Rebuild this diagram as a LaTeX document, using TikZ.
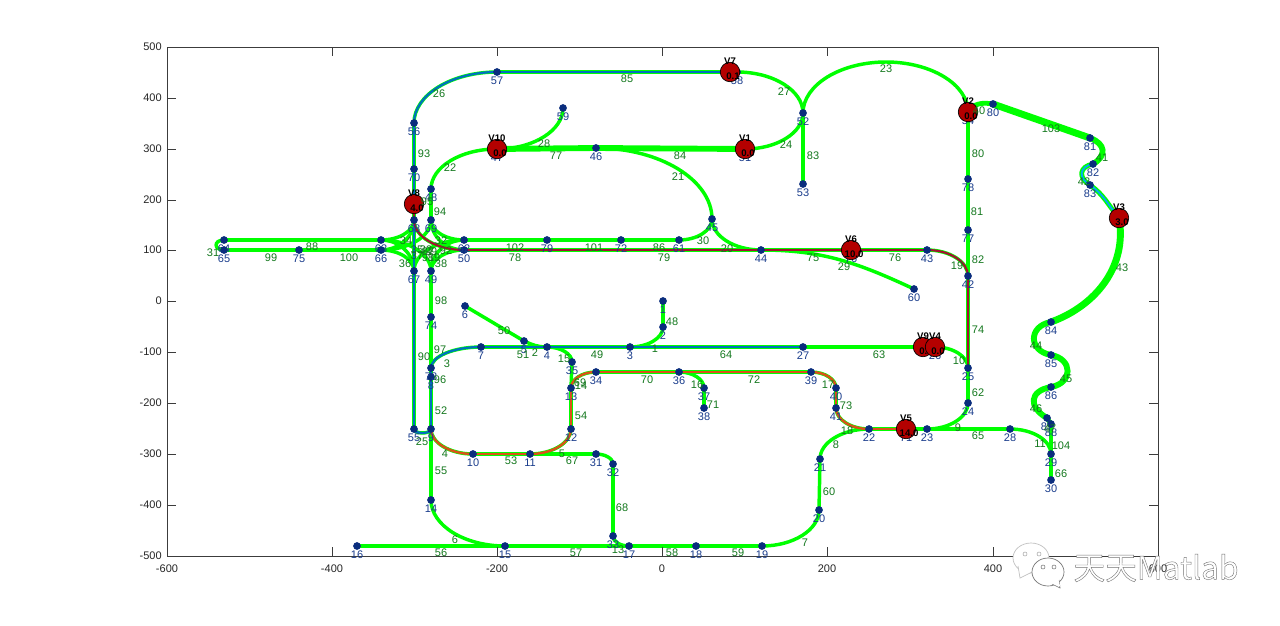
\documentclass[tikz,border=0pt]{standalone}
\usepackage{fontspec}
\setmainfont{Liberation Sans}
\newfontfamily\cjkfont{Noto Sans CJK SC}
\usetikzlibrary{backgrounds,calc}
\definecolor{gline}{RGB}{0,255,0}
\definecolor{mblue}{RGB}{0,114,189}
\definecolor{mred}{RGB}{162,20,47}
\definecolor{morange}{RGB}{217,83,25}
\definecolor{dotblue}{RGB}{10,45,125}
\definecolor{nlabel}{RGB}{25,60,140}
\definecolor{elabel}{RGB}{20,120,30}
\definecolor{vred}{RGB}{180,0,0}
\definecolor{axisgray}{RGB}{60,60,60}
\tikzset{
  x=0.75pt,y=-0.75pt,
  axisline/.style={draw=axisgray,line width=0.6pt},
  ticklab/.style={font=\fontsize{8.25pt}{9pt}\selectfont,text=black!85,inner sep=0pt},
  dotnode/.style={circle,fill=dotblue,minimum size=5.8pt,inner sep=0pt},
  nlab/.style={font=\fontsize{8.25pt}{9pt}\selectfont,text=nlabel,inner sep=0pt,label distance=0.3pt},
  elab/.style={font=\fontsize{8.25pt}{9pt}\selectfont,text=elabel,inner sep=0pt},
  vcirc/.style={circle,fill=vred,draw=black,line width=0.5pt,minimum size=14.6pt,inner sep=0pt},
  vname/.style={font=\bfseries\fontsize{7.2pt}{8pt}\selectfont,text=black,inner sep=0pt},
  vval/.style={font=\bfseries\fontsize{7.2pt}{8pt}\selectfont,text=black,inner sep=0pt},
  gbase/.style={draw=gline,line width=2.6pt},
  gmid/.style={draw=gline,line width=3.6pt},
  gthick/.style={draw=gline,line width=4.4pt},
  gbold/.style={draw=gline,line width=5.2pt},
  pblue/.style={draw=mblue,line width=1.7pt,line cap=round},
  pred/.style={draw=mred,line width=1.6pt,line cap=round},
  porange/.style={draw=morange,line width=1.8pt,line cap=round},
  pcyan/.style={draw=cyan,line width=1.4pt,line cap=round},
  bubble/.style={fill=white,line width=0.5pt},
}
\newcommand{\straights}[2]{\foreach \a/\b in {#2} \draw[#1] (n\a.center) -- (n\b.center);}
\newcommand{\curves}[2]{\foreach \a/\b/\o/\i/\l in {#2} \draw[#1] (n\a.center) to[out=\o,in=\i,looseness=\l] (n\b.center);}
% quarter ellipses: leaving horizontally and arriving vertically, or the reverse
\newcommand{\hvset}[2]{\foreach \a/\b in {#2} \draw[#1] let \p1=(n\a.center),\p2=(n\b.center) in (\p1) .. controls ({\x1+0.55*(\x2-\x1)},\y1) and (\x2,{\y2-0.55*(\y2-\y1)}) .. (\p2);}
\newcommand{\vhset}[2]{\foreach \a/\b in {#2} \draw[#1] let \p1=(n\a.center),\p2=(n\b.center) in (\p1) .. controls (\x1,{\y1+0.55*(\y2-\y1)}) and ({\x2-0.55*(\x2-\x1)},\y2) .. (\p2);}
\begin{document}
\begin{tikzpicture}
\useasboundingbox (0,0) rectangle (1280,625);
\begin{pgfonlayer}{background}
\fill[white] (0,0) rectangle (1280,625);
\end{pgfonlayer}

% axes
\draw[axisline] (167,47) rectangle (1158,556);
\foreach \px/\t in {167/-600,332/-400,497/-200,662/0,827/200,993/400,1158/600}{
  \draw[axisline] (\px,556) -- (\px,547);
  \draw[axisline] (\px,47) -- (\px,56);
  \node[ticklab] at (\px,569) {\t};
}
\foreach \py/\t in {47/500,98/400,149/300,200/200,250/100,301/0,352/-100,403/-200,454/-300,505/-400,556/-500}{
  \draw[axisline] (167,\py) -- (176,\py);
  \draw[axisline] (1158,\py) -- (1149,\py);
  \node[ticklab,anchor=east] at (162,\py) {\t};
}

% graph nodes
\foreach \i/\x/\y in {1/663/301,2/663/327,3/630/347,4/547/347,5/524/341,6/465/306,7/481/347,8/431/377,9/431/429,10/473/454,11/530/454,12/571/429,13/571/388,14/431/500,15/505/546,16/357/546,17/629/546,18/696/546,19/762/546,20/819/510,21/820/459,22/869/429,23/927/429,24/968/403,25/968/368,26/935/347,27/803/347,28/1010/429,29/1051/454,30/1051/480,31/596/454,32/613/464,33/613/536,34/596/372,35/572/362,36/679/372,37/704/388,38/704/408,39/811/372,40/836/388,41/836/408,42/968/276,43/927/250,44/761/250,45/712/219,46/596/148,47/497/149,48/431/189,49/431/271,50/464/250,51/745/149,52/803/113,53/803/184,54/968/112,55/414/429,56/414/123,57/497/72,58/737/72,59/563/108,60/914/289,61/679/240,62/464/240,63/381/240,64/224/240,65/224/250,66/381/250,67/414/271,68/414/220,69/431/220,70/414/169,71/906/429,72/621/240,73/431/368,74/431/317,75/299/250,76/851/250,77/968/230,78/968/179,79/547/240,80/993/104,81/1090/138,82/1093/164,83/1090/185,84/1051/322,85/1051/355,86/1051/387,87/1047/418,88/1051/424}{
  \node[dotnode,label={[nlab]below:\i}] (n\i) at (\x,\y) {};
}
\coordinate (npk) at (886,62);

% connectors
\begin{pgfonlayer}{background}
\straights{gbase}{2/1,6/5,7/4,4/3,3/27,27/26,35/13,34/36,36/39,37/38,40/41,22/71,71/23,20/21,16/15,15/17,17/18,18/19,9/14,32/33,11/31,10/11,12/13,8/9,73/8,74/73,49/74,48/69,55/67,67/68,68/70,70/56,57/58,52/53,64/63,79/72,72/61,62/79,65/75,75/66,50/44,44/76,76/43,42/77,77/78,78/54,42/25,25/24,23/28,29/30}
\hvset{gbase}{3/2,4/35,36/37,39/40,19/20,11/12,31/32,58/52,51/52,47/59,46/45,61/45,43/42,26/25,23/24,28/29,pk/54}
\vhset{gbase}{73/7,13/34,41/22,21/22,33/17,14/15,9/10,56/57,48/47,45/44,52/pk}
\curves{gbase}{5/4/-25/180/1,55/9/-90/-90/0.8,44/60/0/155/1,64/65/180/180/2.7}
% central interchange
\hvset{gbase}{63/68,66/67,62/69,50/49,63/49,66/69,62/67,50/68,66/68,63/67,62/49,50/69}
% heavier sections
\straights{gthick}{47/46,46/51}
\straights{gbold}{80/81}
\curves{gmid}{54/80/60/170/1,82/83/190/150/1.7,87/88/-50/120/1}
\curves{gthick}{81/82/-20/30/1.6,84/85/190/170/1.8,85/86/-10/10/1.8,86/87/190/150/1.8}
\straights{gmid}{88/29}
% coloured routes
\straights{pblue}{58/57,56/55,9/73,7/27}
\vhset{pblue}{56/57,73/7}
\curves{pblue}{55/9/-90/-90/0.8}
\straights{pred}{50/43,42/25}
\vhset{pred}{68/50}
\hvset{pred}{43/42}
\straights{porange}{71/22,41/40,39/34,13/12,11/10}
\vhset{porange}{41/22,13/34,9/10}
\hvset{porange}{39/40,11/12}
\end{pgfonlayer}

% vehicles
\foreach \v/\x/\y/\t in {V1/745/149/0.0,V2/968/112/0.0,V3/1119/218/3.0,V9/923/347/0.0,V4/935/347/0.0,V5/906/429/14.0,V6/851/250/10.0,V7/730/72/0.1,V8/414/204/4.0,V10/497/149/0.0}{
  \node[vcirc] (\v) at (\x,\y) {};
  \node[vname] (\v name) at (\x,\y-10.5) {\v};
  \node[vval] (\v val) at (\x+3,\y+4) {\t};
}

% the routes that reach vehicle circles
\begin{pgfonlayer}{background}
\draw[gbase] (V9) -- (n26);
\draw[gmid] (n83.center) to[out=-35,in=130] (V3.center);
\draw[gbold] (V3.center) to[out=-80,in=20] (n84.center);
\draw[pblue] (n56.center) -- (V8.center);
\draw[pred] (V8.center) -- (n68.center);
\draw[pcyan] (n82.center) to[out=190,in=150,looseness=1.7] (n83.center) to[out=-35,in=130] (V3.center);
\end{pgfonlayer}

% connector labels
\foreach \x/\y/\t in {886/69/23,627/79/85,784/92/27,786/145/24,813/156/83,439/94/26,424/154/93,450/168/22,544/144/28,556/156/77,680/156/84,678/177/21,440/212/94,312/247/88,271/258/99,349/258/100,213/253/31,515/248/102,515/258/78,594/248/101,659/248/86,664/258/79,703/241/30,727/249/20,813/258/75,844/267/29,895/258/76,957/266/19,978/260/82,978/154/80,977/212/81,1051/129/103,1102/158/41,1084/182/42,1122/268/43,1036/346/44,1066/379/45,1036/409/46,1061/446/104,1061/474/66,1040/444/11,978/436/65,958/428/9,978/393/62,978/330/74,959/361/10,879/355/63,726/355/64,597/355/49,655/349/1,672/322/48,504/331/50,523/355/51,535/353/2,564/359/15,440/350/97,424/357/90,447/364/3,440/380/96,441/411/52,422/442/25,445/454/4,511/461/53,562/454/5,572/461/67,581/416/54,580/383/69,581/386/14,647/380/70,754/380/72,697/385/16,713/405/71,828/385/17,846/406/73,847/431/18,836/445/8,829/492/60,441/471/55,441/301/98,455/540/6,441/553/56,576/553/57,618/550/13,672/553/58,738/553/59,805/543/7,622/508/68,406/241/34,441/241/32,405/264/36,441/264/38,417/250/35,417/256/37,426/250/33,431/252/39,428/258/91,446/251/92,434/258/89,428/252/87,427/202/95,979/111/40,1050/429/47}{
  \node[elab] at (\x,\y) {\t};
}

% watermark
\draw[bubble,draw=black!25] (1031,558) ellipse (18 and 15);
\draw[bubble,draw=black!25] (1018,566) -- (1020,578) -- (1032,572);
\draw[bubble,draw=black!55] (1048,572) ellipse (16 and 14);
\draw[bubble,draw=black!55] (1052,584) -- (1060,588) -- (1059,580);
\fill[white] (1050,583) -- (1060,586) -- (1058,578) -- cycle;
\foreach \x/\y/\c in {1025/554/35,1039/554/35,1043/567/55,1054/567/55}
  \draw[black!\c,fill=white,line width=0.4pt] (\x,\y) circle (2);
\node[font=\cjkfont\fontsize{23.8pt}{25pt}\selectfont,text=white,inner sep=0pt] at (1156,568) {\special{pdf:code 2 Tr 0.3 w 0.45 G}天天Matlab\special{pdf:code 0 Tr 0 G}};
\end{tikzpicture}
\end{document}
